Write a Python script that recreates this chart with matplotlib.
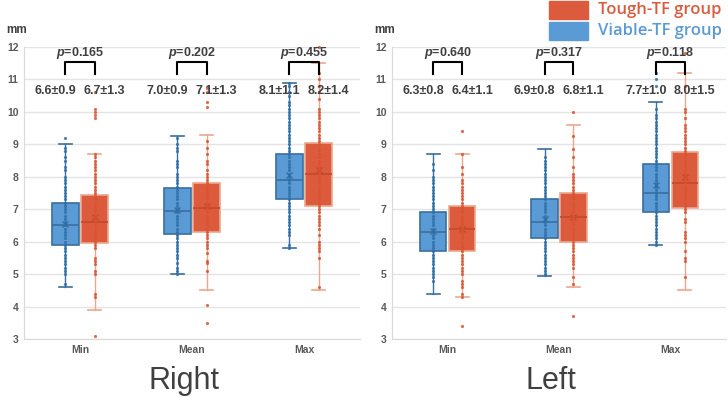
import matplotlib.pyplot as plt
from matplotlib.patches import Rectangle

plt.rcParams["font.family"] = ["Liberation Sans", "DejaVu Sans"]
plt.rcParams["mathtext.fontset"] = "custom"
plt.rcParams["mathtext.it"] = "Liberation Sans:italic:bold"
plt.rcParams["mathtext.rm"] = "Liberation Sans:bold"

categories = ["Min", "Mean", "Max"]
panel_titles = ["Right", "Left"]

# box stats: q1, median, q3, lower whisker, upper whisker, mean
right_viable_box = [[5.9, 6.5, 7.2, 4.6, 9.0, 6.55],
                    [6.25, 6.95, 7.65, 5.0, 9.25, 6.97],
                    [7.3, 7.9, 8.7, 5.8, 10.9, 8.05]]
right_tough_box = [[5.95, 6.6, 7.45, 3.9, 8.7, 6.75],
                   [6.3, 7.05, 7.8, 4.5, 9.3, 7.1],
                   [7.1, 8.1, 9.05, 4.5, 11.5, 8.2]]
left_viable_box = [[5.7, 6.3, 6.9, 4.4, 8.7, 6.33],
                   [6.1, 6.6, 7.3, 4.95, 8.85, 6.7],
                   [6.9, 7.5, 8.4, 5.9, 10.3, 7.75]]
left_tough_box = [[5.7, 6.4, 7.1, 4.3, 8.7, 6.4],
                  [6.0, 6.75, 7.5, 4.6, 9.6, 6.75],
                  [7.05, 7.8, 8.75, 4.5, 11.2, 8.0]]

# individual values (the dot columns)
right_viable_pts = [
    [4.7, 5.0, 5.1, 5.2, 5.3, 5.4, 5.5, 5.6, 5.7, 5.8, 5.9, 6.0, 6.1, 6.2, 6.3, 6.4,
     6.5, 6.6, 6.7, 6.8, 6.9, 7.0, 7.1, 7.2, 7.3, 7.4, 7.5, 7.6, 7.7, 7.8, 7.9, 8.0,
     8.2, 8.3, 8.5, 8.6, 8.8, 8.9, 9.2],
    [5.0, 5.1, 5.2, 5.35, 5.5, 5.6, 5.7, 5.8, 5.9, 6.0, 6.1, 6.2, 6.3, 6.4, 6.5, 6.6,
     6.7, 6.8, 6.9, 7.0, 7.1, 7.2, 7.3, 7.4, 7.5, 7.6, 7.7, 7.8, 7.9, 8.0, 8.1, 8.3,
     8.4, 8.5, 8.8, 8.9, 9.0, 9.2],
    [5.8, 5.9, 6.2, 6.3, 6.4, 6.5, 6.6, 6.7, 6.8, 6.9, 7.0, 7.1, 7.2, 7.3, 7.4, 7.5,
     7.6, 7.7, 7.8, 7.9, 8.0, 8.1, 8.2, 8.3, 8.4, 8.5, 8.6, 8.7, 8.8, 8.9, 9.0, 9.1,
     9.2, 9.3, 9.4, 9.5, 9.6, 9.7, 9.8, 9.9, 10.0, 10.1, 10.2, 10.3, 10.5, 10.6,
     10.8, 10.9],
]
right_tough_pts = [
    [3.1, 4.3, 4.4, 5.0, 5.1, 5.3, 5.4, 5.5, 5.8, 5.9, 6.0, 6.1, 6.2, 6.3, 6.4, 6.5,
     6.6, 6.7, 6.8, 6.9, 7.0, 7.1, 7.2, 7.3, 7.4, 7.5, 7.6, 7.7, 7.8, 7.9, 8.0, 8.1,
     8.2, 8.3, 8.4, 8.5, 8.6, 8.7, 9.8, 9.9, 10.0, 10.1, 10.6],
    [3.5, 4.05, 5.1, 5.35, 5.4, 5.65, 5.8, 5.9, 6.0, 6.1, 6.2, 6.3, 6.4, 6.5, 6.6,
     6.7, 6.8, 6.9, 7.0, 7.1, 7.2, 7.3, 7.4, 7.5, 7.6, 7.7, 7.8, 7.9, 8.0, 8.1, 8.2,
     8.4, 8.5, 8.7, 8.9, 9.1, 10.15, 10.3, 10.6, 10.75],
    [4.6, 5.5, 5.7, 5.8, 5.9, 6.0, 6.2, 6.4, 6.5, 6.6, 6.7, 6.8, 6.9, 7.0, 7.1, 7.2,
     7.3, 7.4, 7.5, 7.6, 7.7, 7.8, 7.9, 8.0, 8.1, 8.2, 8.3, 8.4, 8.5, 8.6, 8.7, 8.8,
     8.9, 9.0, 9.1, 9.2, 9.3, 9.4, 9.5, 9.6, 9.7, 9.8, 9.9, 10.0, 10.1, 10.4, 10.6,
     10.8, 11.0, 11.2, 12.0],
]
left_viable_pts = [
    [4.8, 4.9, 5.0, 5.1, 5.2, 5.3, 5.4, 5.5, 5.6, 5.7, 5.8, 5.9, 6.0, 6.1, 6.2, 6.3,
     6.4, 6.5, 6.6, 6.7, 6.8, 6.9, 7.0, 7.1, 7.2, 7.3, 7.4, 7.5, 7.6, 7.7, 7.8, 7.9,
     8.0, 8.2, 8.4],
    [5.0, 5.1, 5.2, 5.3, 5.4, 5.5, 5.6, 5.7, 5.8, 5.9, 6.0, 6.1, 6.2, 6.3, 6.4, 6.5,
     6.6, 6.7, 6.8, 6.9, 7.0, 7.1, 7.2, 7.3, 7.4, 7.5, 7.6, 7.7, 7.8, 7.9, 8.0, 8.1,
     8.2, 8.3, 8.4, 8.5, 8.6],
    [5.9, 6.0, 6.1, 6.2, 6.3, 6.4, 6.5, 6.6, 6.7, 6.8, 6.9, 7.0, 7.1, 7.2, 7.3, 7.4,
     7.5, 7.6, 7.7, 7.8, 7.9, 8.0, 8.1, 8.2, 8.3, 8.4, 8.5, 8.6, 8.7, 8.8, 8.9, 9.0,
     9.1, 9.2, 9.3, 9.4, 9.5, 9.6, 9.7, 9.8, 9.9, 10.1, 10.8, 11.0, 11.2],
]
left_tough_pts = [
    [3.4, 4.3, 4.4, 4.6, 4.7, 4.8, 5.0, 5.1, 5.2, 5.3, 5.4, 5.5, 5.6, 5.7, 5.8, 5.9,
     6.0, 6.1, 6.2, 6.3, 6.4, 6.5, 6.6, 6.7, 6.8, 6.9, 7.0, 7.1, 7.2, 7.3, 7.4, 7.5,
     7.6, 7.7, 7.8, 7.9, 8.1, 8.3, 8.7, 9.4],
    [3.7, 4.7, 4.9, 5.2, 5.3, 5.4, 5.5, 5.6, 5.7, 5.8, 5.9, 6.0, 6.1, 6.2, 6.3, 6.4,
     6.5, 6.6, 6.7, 6.8, 6.9, 7.0, 7.1, 7.2, 7.3, 7.4, 7.5, 7.6, 7.7, 7.8, 7.9, 8.0,
     8.1, 8.3, 8.6, 8.85, 9.25, 10.0],
    [4.9, 5.4, 5.5, 5.7, 6.0, 6.1, 6.2, 6.3, 6.6, 6.7, 6.9, 7.0, 7.1, 7.2, 7.3, 7.4,
     7.5, 7.6, 7.7, 7.8, 7.9, 8.0, 8.1, 8.2, 8.3, 8.4, 8.5, 8.6, 8.7, 8.8, 8.9, 9.0,
     9.1, 9.2, 9.3, 9.4, 9.5, 9.6, 9.8, 10.0, 10.1, 10.8, 11.8],
]

right_viable_lbl = ["6.6±0.9", "7.0±0.9", "8.1±1.1"]
right_tough_lbl = ["6.7±1.3", "7.1±1.3", "8.2±1.4"]
left_viable_lbl = ["6.3±0.8", "6.9±0.8", "7.7±1.0"]
left_tough_lbl = ["6.4±1.1", "6.8±1.1", "8.0±1.5"]
right_p = ["0.165", "0.202", "0.455"]
left_p = ["0.640", "0.317", "0.118"]

BLUE = "#5B9BD5"
BLUE_DK = "#3A6E9E"
BLUE_PT = "#2F6FA8"
ORANGE = "#DC5B3C"
ORANGE_LT = "#EBA88F"
ORANGE_PT = "#D9532F"
GRID = "#E4E4E4"
TXT = "#595959"

panels = [
    (right_viable_box, right_tough_box, right_viable_pts, right_tough_pts,
     right_viable_lbl, right_tough_lbl, right_p),
    (left_viable_box, left_tough_box, left_viable_pts, left_tough_pts,
     left_viable_lbl, left_tough_lbl, left_p),
]

fig = plt.figure(figsize=(7.28, 3.97), dpi=100)
W, H = 728, 397
ax_px = [(24, 360), (392, 726)]
off = 0.13
bw = 0.235


def stats_of(box):
    q1, med, q3, lo, hi, mean = box
    return dict(q1=q1, med=med, q3=q3, whislo=lo, whishi=hi, mean=mean, fliers=[])


for k, (vb, tb, vp, tp, vl, tl, pv) in enumerate(panels):
    x0, x1 = ax_px[k]
    ax = fig.add_axes([x0 / W, 1 - 339 / H, (x1 - x0) / W, (339 - 47) / H])
    ax.set_xlim(-0.5, 2.5)
    ax.set_ylim(3, 12)
    ax.set_yticks(range(3, 13))
    ax.set_xticks(range(3))
    ax.set_xticklabels(categories)
    ax.tick_params(length=0, labelsize=7.5, colors=TXT, pad=4)
    for lab in ax.get_xticklabels() + ax.get_yticklabels():
        lab.set_fontweight("bold")
    ax.grid(axis="y", color=GRID, lw=1)
    ax.set_axisbelow(True)
    for s in ["top", "right"]:
        ax.spines[s].set_visible(False)
    for s in ["left", "bottom"]:
        ax.spines[s].set_color("#D9D9D9")

    for boxes, pts, dx, fc, ec, wc, pc, mc in [
        (vb, vp, -off, BLUE, BLUE_DK, BLUE_DK, BLUE_PT, BLUE_DK),
        (tb, tp, off, ORANGE, ORANGE_LT, ORANGE_LT, ORANGE_PT, "#C24A2C"),
    ]:
        pos = [i + dx for i in range(3)]
        ax.bxp([stats_of(b) for b in boxes], positions=pos, widths=bw,
               patch_artist=True, showmeans=True, showfliers=False,
               boxprops=dict(facecolor=fc, edgecolor=ec, lw=1.2),
               medianprops=dict(color=mc, lw=1.2),
               whiskerprops=dict(color=wc, lw=1),
               capprops=dict(color=wc, lw=1.2),
               meanprops=dict(marker="x", markeredgecolor=mc,
                              markersize=5, markeredgewidth=1),
               manage_ticks=False)
        for i, vals in enumerate(pts):
            ax.plot([i + dx] * len(vals), vals, "o", ms=2.3, color=pc, alpha=0.85,
                    mec="none", clip_on=False, zorder=4)

    for i in range(3):
        xa, xb = i - off, i + off
        ax.plot([xa, xa, xb, xb], [11.17, 11.55, 11.55, 11.17], color="black",
                lw=1.5, clip_on=False, zorder=5)
        ax.text(i, 11.8, "$p$=" + pv[i], ha="center", va="center",
                fontsize=9, fontweight="bold", color="#404040", zorder=6)
        ax.text(i - 0.22, 10.65, vl[i], ha="center", va="center", fontsize=9,
                fontweight="bold", color="#404040", zorder=6)
        ax.text(i + 0.22, 10.65, tl[i], ha="center", va="center", fontsize=9,
                fontweight="bold", color="#404040", zorder=6)

    fig.text((x0 - 18) / W, 1 - 30 / H, "mm", fontsize=8.5, fontweight="bold",
             color="#404040", va="center", ha="left")
    fig.text(((x0 + x1) / 2 - 8) / W, 1 - 381 / H, panel_titles[k], fontsize=22,
             color="#404040", ha="center", va="center")

# legend in the top right corner
fig.patches.append(Rectangle((549 / W, 1 - 19 / H), 39 / W, 18 / H, color=ORANGE,
                             transform=fig.transFigure, figure=fig))
fig.patches.append(Rectangle((549 / W, 1 - 40 / H), 39 / W, 18 / H, color=BLUE,
                             transform=fig.transFigure, figure=fig))
fig.text(598 / W, 1 - 10 / H, "Tough-TF group", fontsize=12, color=ORANGE,
         family="Open Sans", fontweight="semibold", va="center", ha="left")
fig.text(598 / W, 1 - 31 / H, "Viable-TF group", fontsize=12, color=BLUE,
         family="Open Sans", fontweight="semibold", va="center", ha="left")

fig.savefig("out.png", dpi=100)
